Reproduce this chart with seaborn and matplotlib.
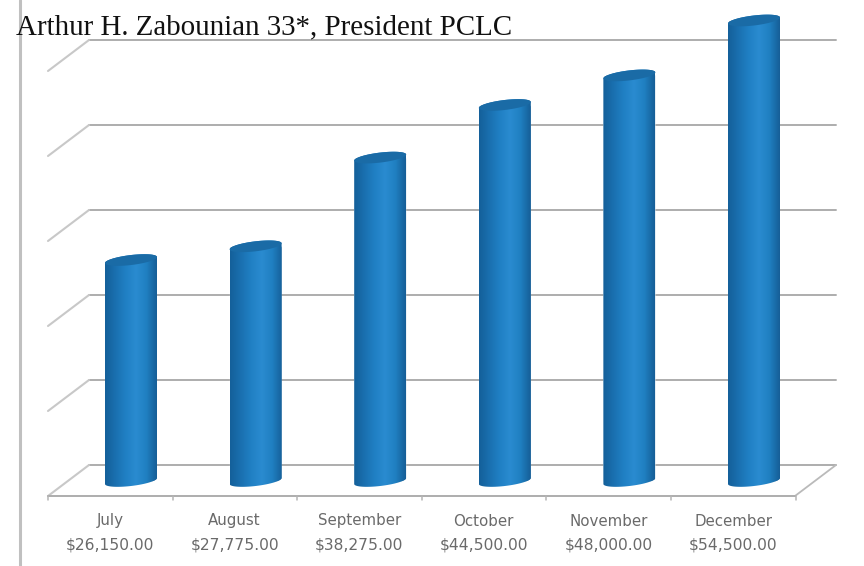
import numpy as np
import pandas as pd
import matplotlib
matplotlib.use('Agg')
import matplotlib.pyplot as plt
from matplotlib.colors import LinearSegmentedColormap
from matplotlib.lines import Line2D
from matplotlib.patches import Polygon
import seaborn as sns

months = ['July', 'August', 'September', 'October', 'November', 'December']
amounts = [26150, 27775, 38275, 44500, 48000, 54500]
amount_labels = ['$26,150.00', '$27,775.00', '$38,275.00', '$44,500.00', '$48,000.00', '$54,500.00']

sns.set_theme(style='white')
plt.rcParams['font.family'] = ['DejaVu Sans']

W, H = 864, 566
step_px = 124.6      # pixels between bars
val_px = 0.00845     # pixels per dollar
x0_px, y0_px = 131, 481

fig = plt.figure(figsize=(W / 100, H / 100), dpi=100)
ax = fig.add_axes([0, 0, 1, 1])

df = pd.DataFrame({'month': months, 'amount': amounts})
bar_w = 52 / step_px
sns.barplot(data=df, x='month', y='amount', color='#1c76b8', width=bar_w, ax=ax, zorder=3)

xlim = (-x0_px / step_px, (W - x0_px) / step_px)
ylim = ((y0_px - H) / val_px, y0_px / val_px)

# floor / wall of the fake 3d box
depth_x = 41 / step_px
depth_y = 31 / val_px
back = 16 / val_px
front = back - depth_y
grid_step = 85 / val_px
left_front = -83 / step_px
right_front = 664 / step_px
grid_col = '#adadad'

for k in range(6):
    yy = back + k * grid_step
    ax.plot([left_front + depth_x, right_front + depth_x], [yy, yy], color=grid_col, lw=1.4, zorder=1)
    ax.plot([left_front, left_front + depth_x], [yy - depth_y, yy],
            color='#c8c8c8', lw=1.5, zorder=1)
ax.plot([left_front, right_front], [front, front], color=grid_col, lw=1.4, zorder=2)
ax.plot([right_front, right_front + depth_x], [front, back], color='#bababa', lw=1.3, zorder=1)
for i in range(7):
    tx = left_front + i
    ax.plot([tx, tx], [front, front - 4 / val_px], color='#b5b5b5', lw=1.1, zorder=2)

# cylinder shading on top of the seaborn bars
shade = LinearSegmentedColormap.from_list(
    'cyl', ['#14609a', '#1a70b0', '#2080c4', '#2a8bd0', '#2080c2', '#165f98'])
grad = np.linspace(0, 1, 64).reshape(1, -1)
ell_h = 5 / val_px
tilt = 3 / val_px
t_low = np.linspace(np.pi, 2 * np.pi, 40)
t_up = np.linspace(0, np.pi, 40)

for i, (bar, val) in enumerate(zip(ax.patches, amounts)):
    a = bar_w / 2
    low = np.column_stack([i + a * np.cos(t_low), tilt * np.cos(t_low) + ell_h * np.sin(t_low)])
    up = np.column_stack([i + a * np.cos(t_up), val + tilt * np.cos(t_up) + ell_h * np.sin(t_up)])
    outline = Polygon(np.vstack([low, up]), closed=True, facecolor='none', edgecolor='none', zorder=3)
    ax.add_patch(outline)
    bar.set_clip_path(outline)
    im = ax.imshow(grad, cmap=shade, extent=[i - a, i + a, -2000, val + 2000],
                   aspect='auto', zorder=3, interpolation='bilinear')
    im.set_clip_path(outline)
    # top cap
    t = np.linspace(0, 2 * np.pi, 80)
    ax.fill(i + a * np.cos(t), val + tilt * np.cos(t) + ell_h * np.sin(t),
            color='#1a6ba6', zorder=4, lw=0)

# month and amount labels, under the front edge
for i in range(6):
    cx = i - 21 / step_px
    ax.text(cx, (y0_px - 521) / val_px, months[i], ha='center', va='center',
            fontsize=10.8, color='#6a6a6a')
    ax.text(cx, (y0_px - 545) / val_px, amount_labels[i], ha='center', va='center',
            fontsize=11.2, color='#6a6a6a')

ax.set_xlim(*xlim)
ax.set_ylim(*ylim)
ax.axis('off')

# page rule and heading from the newsletter
fig.add_artist(Line2D([19.5 / W, 19.5 / W], [0, 1], color='#c0c0c0', lw=2.2))
fig.text(16 / W, 1 - 34 / H, 'Arthur H. Zabounian 33*, President PCLC',
         family=['Liberation Serif', 'DejaVu Serif'], fontsize=20.9, color='#111111', ha='left', va='baseline')

fig.savefig('out.png', dpi=100, facecolor='white')
